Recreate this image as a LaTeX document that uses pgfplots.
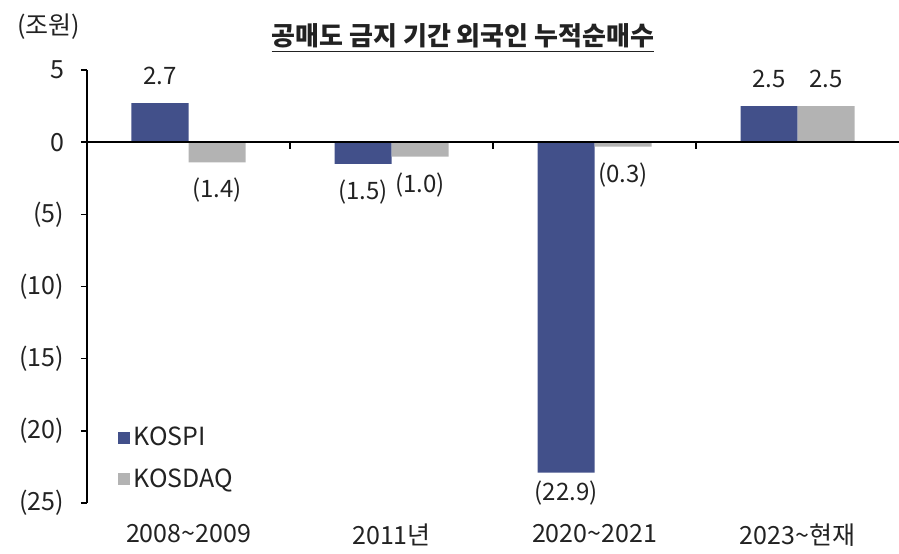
\documentclass[border=0pt]{standalone}
\usepackage{fontspec}
\setmainfont{Noto Sans CJK KR}
\usepackage{pgfplots}
\usepackage{pgfplotstable}
\pgfplotsset{compat=1.18}
\definecolor{kospi}{HTML}{42508A}
\definecolor{kosdaq}{HTML}{B3B3B3}
\definecolor{txt}{HTML}{222222}
\newcommand{\dn}[1]{\raisebox{-27pt}[0pt][0pt]{#1}}
\newcommand{\dnb}[1]{\raisebox{-23pt}[0pt][0pt]{#1}}

\pgfplotstableread{
x y lab
0 2.7 2.7
1 -1.5 \dn{(1.5)}
2 -22.9 \dnb{(22.9)}
3 2.5 2.5
}\kospitab
\pgfplotstableread{
x y lab
0 -1.4 \dn{(1.4)}
1 -1.0 \dn{(1.0)}
2 -0.3 \dn{(0.3)}
3 2.5 2.5
}\kosdaqtab

\begin{document}
\begin{tikzpicture}[font=\fontsize{12.5pt}{15pt}\selectfont, text=txt]
\path[use as bounding box] (-43.5pt,-25pt) rectangle (406pt,251.5pt);
\begin{axis}[
  scale only axis, width=406pt, height=216.5pt,
  at={(0,0)}, anchor=south west,
  xmin=-0.5, xmax=3.5, ymin=-25, ymax=5,
  ybar=0pt, bar width=28.5pt,
  axis x line*=bottom, axis y line*=left,
  x axis line style={draw=none},
  y axis line style={line width=0.8pt, black},
  xtick={0,1,2,3},
  xticklabels={2008\textasciitilde{}2009, 2011년, 2020\textasciitilde{}2021, 2023\textasciitilde{}현재},
  major x tick style={draw=none},
  xticklabel style={yshift=-4pt, font=\fontsize{12.5pt}{15pt}\selectfont},
  ytick={-25,-20,-15,-10,-5,0,5},
  yticklabels={(25),(20),(15),(10),(5),0,5},
  tick align=outside, major tick length=3pt,
  major y tick style={line width=0.8pt, black},
  yticklabel style={xshift=-5pt, font=\fontsize{12.5pt}{15pt}\selectfont},
  nodes near coords,
  point meta=explicit symbolic,
  every node near coord/.append style={inner ysep=9pt, font=\fontsize{12pt}{14pt}\selectfont},
  legend style={at={(0.03,0.195)}, anchor=north west, draw=none, fill=none,
    font=\fontsize{12.5pt}{15pt}\selectfont, row sep=6pt},
  legend cell align=left,
  legend image code/.code={\fill[#1] (0pt,-3pt) rectangle (6pt,3pt);},
  clip=false,
]
\addplot[fill=kospi, draw=none] table[x=x, y=y, meta=lab] {\kospitab};
\addplot[fill=kosdaq, draw=none] table[x=x, y=y, meta=lab] {\kosdaqtab};
\legend{KOSPI, KOSDAQ}
\draw[black, line width=0.8pt] (axis cs:-0.5,0) -- (axis cs:3.5,0);
\draw[black, line width=0.8pt] (axis cs:0.5,0) -- (axis cs:0.5,-0.45);
\draw[black, line width=0.8pt] (axis cs:1.5,0) -- (axis cs:1.5,-0.45);
\draw[black, line width=0.8pt] (axis cs:2.5,0) -- (axis cs:2.5,-0.45);
\end{axis}
\node[font=\fontsize{13pt}{15pt}\selectfont\bfseries] at (188pt,232.5pt) {\underline{공매도 금지 기간 외국인 누적순매수}};
\node at (-19pt,238pt) {(조원)};
\end{tikzpicture}
\end{document}
